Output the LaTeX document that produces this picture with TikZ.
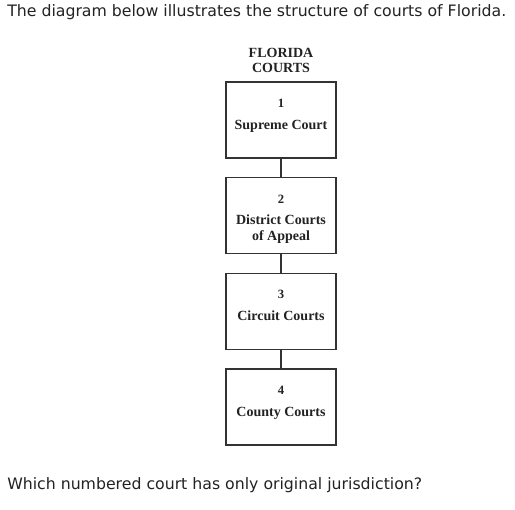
\documentclass[tikz,border=0pt]{standalone}
\usepackage{fontspec}
\setmainfont{Liberation Serif}
\newfontfamily\uifont{DejaVu Sans}
\usetikzlibrary{calc}
\definecolor{ink}{HTML}{222222}
\definecolor{edge}{HTML}{333333}
\begin{document}
\begin{tikzpicture}[x=0.75pt,y=-0.75pt,
  box/.style={draw=edge, line width=1.1pt, minimum width=82.5pt, minimum height=57pt, inner sep=0pt},
  num/.style={font=\bfseries\fontsize{9.5}{11}\selectfont, text=ink, inner sep=0pt},
  lbl/.style={font=\bfseries\fontsize{10.5}{12}\selectfont, text=ink, align=center, inner sep=0pt},
  ui/.style={font=\uifont\fontsize{11.8}{14}\selectfont, text=ink, anchor=west, inner sep=0pt},
  link/.style={draw=edge, line width=1.1pt}]
\useasboundingbox (0,0) rectangle (515,510);
\node[ui] (head) at (7,12) {The diagram below illustrates the structure of courts of Florida.};
\node[lbl, font=\bfseries\fontsize{10.5}{11.3}\selectfont] (title) at (281,60) {FLORIDA\\COURTS};
\node[box] (b1) at (281,120) {};
\node[box] (b2) at (281,215.5) {};
\node[box] (b3) at (281,311.5) {};
\node[box] (b4) at (281,407) {};
\node[num] (n1) at (281,103) {1};
\node[lbl] (l1) at (281,126) {Supreme Court};
\node[num] (n2) at (281,199) {2};
\node[lbl] (l2) at (281,229) {District Courts\\of Appeal};
\node[num] (n3) at (281,294) {3};
\node[lbl] (l3) at (281,316) {Circuit Courts};
\node[num] (n4) at (281,390) {4};
\node[lbl] (l4) at (281,413) {County Courts};
\draw[link] (b1.south) -- (b2.north);
\draw[link] (b2.south) -- (b3.north);
\draw[link] (b3.south) -- (b4.north);
\node[ui] (q) at (7,485) {Which numbered court has only original jurisdiction?};
\end{tikzpicture}
\end{document}
